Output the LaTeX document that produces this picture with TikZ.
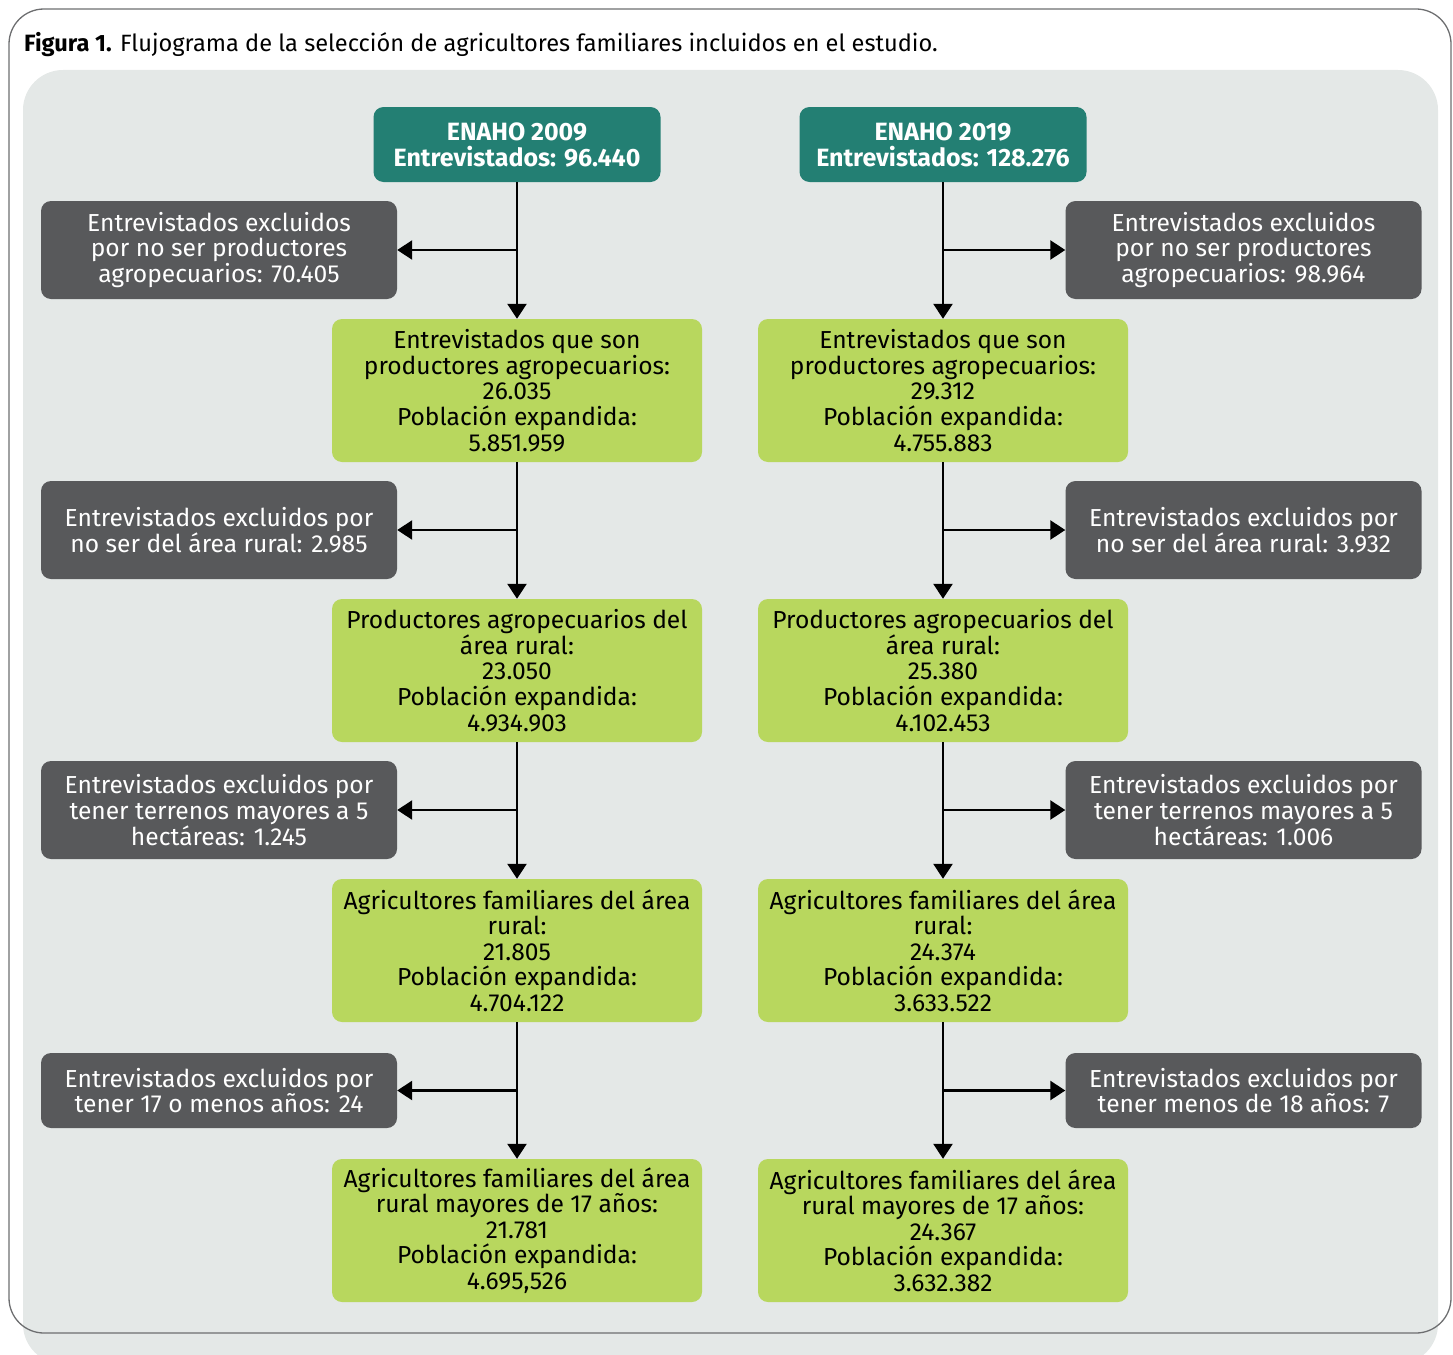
\documentclass[tikz,border=0pt]{standalone}
\usepackage{fontspec}
\setmainfont{Fira Sans}
\usetikzlibrary{arrows.meta}
\definecolor{teal}{HTML}{237F73}
\definecolor{lgreen}{HTML}{B8D75E}
\definecolor{dgray}{HTML}{58595B}
\definecolor{panel}{HTML}{E4E8E7}
\definecolor{frame}{HTML}{6D6E70}
\tikzset{
  boxfont/.style={font=\fontsize{24.6}{25.6}\selectfont},
  headbox/.style={fill=teal, text=white, rounded corners=10pt, minimum width=287pt, minimum height=75pt, inner sep=0pt, align=center, font=\fontsize{25}{26}\selectfont\bfseries},
  exbox/.style={fill=dgray, text=white, rounded corners=10pt, minimum width=356pt, inner sep=0pt, align=center, boxfont},
  incbox/.style={fill=lgreen, text=black, rounded corners=10pt, minimum width=370pt, minimum height=143pt, inner sep=0pt, align=center, boxfont},
  flow/.style={line width=2.5pt, -{Triangle[width=19pt,length=15pt]}},
}
\begin{document}
\begin{tikzpicture}[x=1pt,y=-1pt]
\useasboundingbox (0,0) rectangle (1453,1354);
\begin{scope}
\clip (0,0) rectangle (1453,1354);
\fill[panel, rounded corners=40pt] (23,70) rectangle (1438,1364);
\end{scope}
\draw[frame, line width=1.3pt, rounded corners=35pt] (9,9) rectangle (1451,1333);
\node[anchor=base west, inner sep=0pt, font=\fontsize{23.6}{26}\selectfont] (title) at (24,52) {\textbf{Figura 1.} Flujograma de la selección de agricultores familiares incluidos en el estudio.};

% left column
\node[headbox] (a0) at (517,144.5) {ENAHO 2009\\Entrevistados: 96.440};
\node[exbox, minimum height=98pt] (ae1) at (219,250) {Entrevistados excluidos\\por no ser productores\\agropecuarios: 70.405};
\node[incbox] (a1) at (517,390.5) {Entrevistados que son\\productores agropecuarios:\\26.035\\Población expandida:\\5.851.959};
\node[exbox, minimum height=98pt] (ae2) at (219,530) {Entrevistados excluidos por\\no ser del área rural: 2.985};
\node[incbox] (a2) at (517,670.5) {Productores agropecuarios del\\área rural:\\23.050\\Población expandida:\\4.934.903};
\node[exbox, minimum height=98pt] (ae3) at (219,810) {Entrevistados excluidos por\\tener terrenos mayores a 5\\hectáreas: 1.245};
\node[incbox] (a3) at (517,950.5) {Agricultores familiares del área\\rural:\\21.805\\Población expandida:\\4.704.122};
\node[exbox, minimum height=75pt] (ae4) at (219,1090.5) {Entrevistados excluidos por\\tener 17 o menos años: 24};
\node[incbox] (a4) at (517,1230.5) {Agricultores familiares del área\\rural mayores de 17 años:\\21.781\\Población expandida:\\4.695,526};

% right column
\node[headbox] (b0) at (943,144.5) {ENAHO 2019\\Entrevistados: 128.276};
\node[exbox, minimum height=98pt] (be1) at (1243.5,250) {Entrevistados excluidos\\por no ser productores\\agropecuarios: 98.964};
\node[incbox] (b1) at (943,390.5) {Entrevistados que son\\productores agropecuarios:\\29.312\\Población expandida:\\4.755.883};
\node[exbox, minimum height=98pt] (be2) at (1243.5,530) {Entrevistados excluidos por\\no ser del área rural: 3.932};
\node[incbox] (b2) at (943,670.5) {Productores agropecuarios del\\área rural:\\25.380\\Población expandida:\\4.102.453};
\node[exbox, minimum height=98pt] (be3) at (1243.5,810) {Entrevistados excluidos por\\tener terrenos mayores a 5\\hectáreas: 1.006};
\node[incbox] (b3) at (943,950.5) {Agricultores familiares del área\\rural:\\24.374\\Población expandida:\\3.633.522};
\node[exbox, minimum height=75pt] (be4) at (1243.5,1090.5) {Entrevistados excluidos por\\tener menos de 18 años: 7};
\node[incbox] (b4) at (943,1230.5) {Agricultores familiares del área\\rural mayores de 17 años:\\24.367\\Población expandida:\\3.632.382};

% arrows
\foreach \c in {a,b}{
  \draw[flow] (\c0.south) -- (\c1.north);
  \draw[flow] (\c1.south) -- (\c2.north);
  \draw[flow] (\c2.south) -- (\c3.north);
  \draw[flow] (\c3.south) -- (\c4.north);
}
\draw[flow] (a0.south |- ae1.east) -- (ae1.east);
\draw[flow] (a1.south |- ae2.east) -- (ae2.east);
\draw[flow] (a2.south |- ae3.east) -- (ae3.east);
\draw[flow] (a3.south |- ae4.east) -- (ae4.east);
\draw[flow] (b0.south |- be1.west) -- (be1.west);
\draw[flow] (b1.south |- be2.west) -- (be2.west);
\draw[flow] (b2.south |- be3.west) -- (be3.west);
\draw[flow] (b3.south |- be4.west) -- (be4.west);
\end{tikzpicture}
\end{document}
